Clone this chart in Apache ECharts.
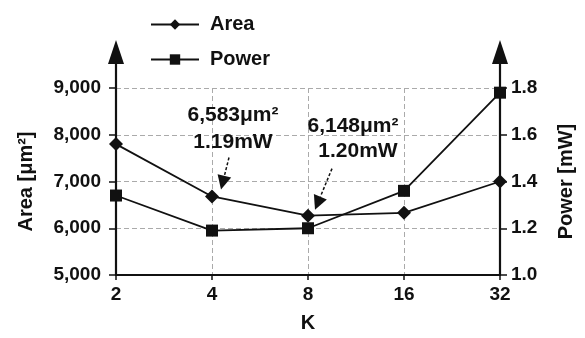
<!DOCTYPE html>
<html><head><meta charset="utf-8">
<script src="https://cdn.jsdelivr.net/npm/echarts@6/dist/echarts.min.js"></script>
<style>html,body{margin:0;padding:0;background:#fff}#c{width:585px;height:338px}</style>
</head><body><div id="c"></div>
<script>
const categories = ['2', '4', '8', '16', '32'];
const areaValues = [7800, 6680, 6270, 6330, 7000];
const powerValues = [1.34, 1.19, 1.20, 1.36, 1.78];
const areaTicks = [5000, 6000, 7000, 8000, 9000];
const powerTicks = [1.0, 1.2, 1.4, 1.6, 1.8];
const annotationCats = ['4', '8'];
const annotationLine1 = ['6,583μm²', '6,148μm²'];
const annotationLine2 = ['1.19mW', '1.20mW'];

// style offsets for annotations (pixels, relative to the Area point)
const annStyle = [
  {t1: [21, -81], t2: [21, -54], a0: [17, -39], a1: [9, -7]},
  {t1: [45, -89], t2: [50, -64], a0: [24, -47], a1: [7, -6]}
];

const FONT = 'Liberation Sans, Arial, sans-serif';
const chart = echarts.init(document.getElementById('c'), null, {renderer: 'canvas'});

const fmtThousands = v => String(Math.round(v)).replace(/\B(?=(\d{3})+(?!\d))/g, ',');

chart.setOption({
  animation: false,
  backgroundColor: '#fff',
  textStyle: {fontFamily: FONT},
  grid: {left: 116, right: 85, top: 88, bottom: 58},
  legend: {
    orient: 'vertical', left: 145, top: 9, itemWidth: 48, itemHeight: 13, itemGap: 14,
    data: ['Area', 'Power'],
    textStyle: {fontSize: 20, fontWeight: 'bold', color: '#111', fontFamily: FONT, lineHeight: 21, padding: [0, 0, 0, 6]}
  },
  xAxis: {
    type: 'category', data: categories, boundaryGap: false,
    axisLine: {lineStyle: {color: '#111', width: 2.2}},
    axisTick: {show: true, length: 5, lineStyle: {color: '#111', width: 1.5}},
    axisLabel: {fontSize: 19, fontWeight: 'bold', color: '#111', margin: 10, fontFamily: FONT},
    splitLine: {show: true, lineStyle: {color: '#aaa', type: [5, 3], width: 1}},
    name: 'K', nameLocation: 'middle', nameGap: 38,
    nameTextStyle: {fontSize: 20, fontWeight: 'bold', color: '#111', fontFamily: FONT}
  },
  yAxis: [{
    type: 'value', min: areaTicks[0], max: areaTicks[areaTicks.length - 1], interval: areaTicks[1] - areaTicks[0],
    axisLine: {show: true, lineStyle: {color: '#111', width: 2.2}},
    axisTick: {show: true, length: 7, lineStyle: {color: '#111', width: 1.5}},
    axisLabel: {fontSize: 19, fontWeight: 'bold', color: '#111', margin: 15, fontFamily: FONT, formatter: fmtThousands},
    splitLine: {show: true, lineStyle: {color: '#aaa', type: [5, 3], width: 1}},
    name: 'Area [μm²]', nameLocation: 'middle', nameRotate: 90, nameGap: 80,
    nameTextStyle: {fontSize: 20, fontWeight: 'bold', color: '#111', fontFamily: FONT}
  }, {
    type: 'value', min: powerTicks[0], max: powerTicks[powerTicks.length - 1], interval: 0.2,
    position: 'right',
    axisLine: {show: true, lineStyle: {color: '#111', width: 2.2}},
    axisTick: {show: true, length: 7, lineStyle: {color: '#111', width: 1.5}},
    axisLabel: {fontSize: 19, fontWeight: 'bold', color: '#111', margin: 11, fontFamily: FONT, formatter: v => v.toFixed(1)},
    splitLine: {show: false},
    name: 'Power [mW]', nameLocation: 'middle', nameRotate: 90, nameGap: 56,
    nameTextStyle: {fontSize: 20, fontWeight: 'bold', color: '#111', fontFamily: FONT}
  }],
  series: [{
    name: 'Area', type: 'line', yAxisIndex: 0, data: areaValues,
    symbol: 'diamond', symbolSize: 14, z: 5,
    itemStyle: {color: '#111'}, lineStyle: {color: '#111', width: 1.8}
  }, {
    name: 'Power', type: 'line', yAxisIndex: 1, data: powerValues,
    symbol: 'rect', symbolSize: 12, z: 5,
    itemStyle: {color: '#111'}, lineStyle: {color: '#111', width: 1.8}
  }]
});

// axis arrows and annotations, positioned from the library's scales
const els = [];
const leftTop = chart.convertToPixel({xAxisIndex: 0, yAxisIndex: 0}, [categories[0], areaTicks[areaTicks.length - 1]]);
const rightTop = chart.convertToPixel({xAxisIndex: 0, yAxisIndex: 1}, [categories[categories.length - 1], powerTicks[powerTicks.length - 1]]);
[leftTop, rightTop].forEach(p => {
  els.push({type: 'line', shape: {x1: p[0], y1: p[1], x2: p[0], y2: p[1] - 30}, style: {stroke: '#111', lineWidth: 2.2}, z: 100});
  els.push({type: 'polygon', shape: {points: [[p[0], p[1] - 48], [p[0] - 8, p[1] - 24], [p[0] + 8, p[1] - 24]]}, style: {fill: '#111'}, z: 100});
});
annotationCats.forEach((cat, i) => {
  const idx = categories.indexOf(cat);
  const p = chart.convertToPixel({xAxisIndex: 0, yAxisIndex: 0}, [cat, areaValues[idx]]);
  const s = annStyle[i];
  const txtStyle = {fill: '#111', font: 'bold 21px ' + FONT, align: 'center', verticalAlign: 'middle'};
  els.push({type: 'text', x: p[0] + s.t1[0], y: p[1] + s.t1[1], style: Object.assign({text: annotationLine1[i]}, txtStyle), z: 100});
  els.push({type: 'text', x: p[0] + s.t2[0], y: p[1] + s.t2[1], style: Object.assign({text: annotationLine2[i]}, txtStyle), z: 100});
  const x0 = p[0] + s.a0[0], y0 = p[1] + s.a0[1], x1 = p[0] + s.a1[0], y1 = p[1] + s.a1[1];
  const dx = x1 - x0, dy = y1 - y0, L = Math.hypot(dx, dy), ux = dx / L, uy = dy / L;
  const hl = 14, hw = 7;
  const bx = x1 - ux * hl, by = y1 - uy * hl;
  els.push({type: 'line', shape: {x1: x0, y1: y0, x2: bx, y2: by}, style: {stroke: '#111', lineWidth: 1.5, lineDash: [3, 2]}, z: 100});
  els.push({type: 'polygon', shape: {points: [[x1, y1], [bx - uy * hw, by + ux * hw], [bx + uy * hw, by - ux * hw]]}, style: {fill: '#111'}, z: 100});
});
chart.setOption({graphic: {elements: els}});
</script>
</body></html>
